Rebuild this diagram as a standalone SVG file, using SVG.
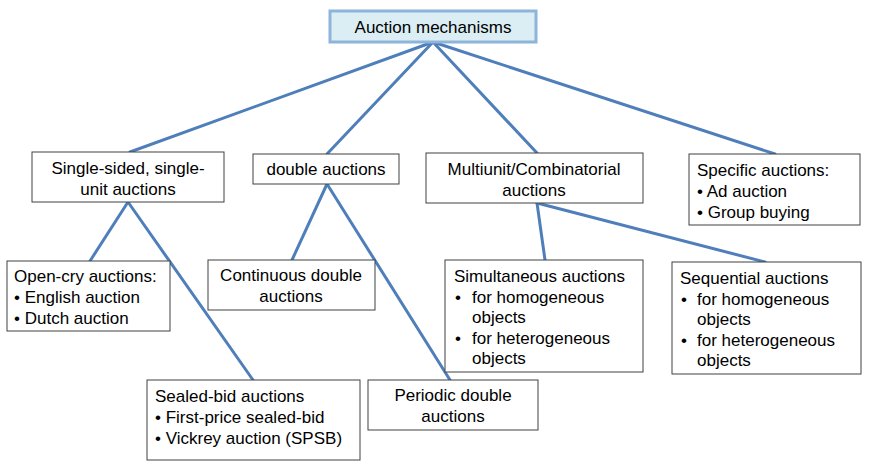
<svg xmlns="http://www.w3.org/2000/svg" width="869" height="463" viewBox="0 0 869 463">
<style>
.box{fill:#ffffff;stroke:#404040;stroke-width:1}
.root{fill:#dbeef4;stroke:#8eb4da;stroke-width:3}
text{font-family:"Liberation Sans",Arial,sans-serif;font-size:17px;fill:#000}
.c{text-anchor:middle}
.conn line{stroke:#4f7fba;stroke-width:3;stroke-linecap:round}
</style>
<rect width="869" height="463" fill="#ffffff"/>
<g id="connectors" class="conn">
<line x1="433" y1="42" x2="130" y2="152"/>
<line x1="433" y1="42" x2="327" y2="154"/>
<line x1="433" y1="42" x2="537" y2="153"/>
<line x1="433" y1="42" x2="775" y2="154"/>
<line x1="128" y1="202" x2="90" y2="261"/>
<line x1="128" y1="202" x2="253" y2="380"/>
<line x1="327" y1="184" x2="292" y2="260"/>
<line x1="327" y1="184" x2="450" y2="380"/>
<line x1="537" y1="203" x2="545" y2="260"/>
<line x1="537" y1="203" x2="765" y2="262"/>
</g>
<g id="root">
<rect class="root" x="330" y="11" width="206" height="31"/>
<text class="c" x="433" y="33">Auction mechanisms</text>
</g>
<g id="single">
<rect class="box" x="32" y="152" width="192" height="50"/>
<text class="c" x="128" y="174">Single-sided, single-</text>
<text class="c" x="128" y="195">unit auctions</text>
</g>
<g id="double">
<rect class="box" x="253" y="154" width="146" height="30"/>
<text class="c" x="326" y="175">double auctions</text>
</g>
<g id="multi">
<rect class="box" x="426" y="153" width="217" height="50"/>
<text class="c" x="534" y="175">Multiunit/Combinatorial</text>
<text class="c" x="534" y="196">auctions</text>
</g>
<g id="specific">
<rect class="box" x="689" y="154" width="171" height="71"/>
<text x="697" y="176">Specific auctions:</text>
<text x="697" y="197">• Ad auction</text>
<text x="697" y="218">• Group buying</text>
</g>
<g id="opencry">
<rect class="box" x="7" y="261" width="163" height="70"/>
<text x="14" y="282">Open-cry auctions:</text>
<text x="14" y="303">• English auction</text>
<text x="14" y="324">• Dutch auction</text>
</g>
<g id="continuous">
<rect class="box" x="208" y="260" width="167" height="50"/>
<text class="c" x="291" y="281">Continuous double</text>
<text class="c" x="291" y="302">auctions</text>
</g>
<g id="simultaneous">
<rect class="box" x="445" y="260" width="198" height="112"/>
<text x="454" y="282">Simultaneous auctions</text>
<text x="455" y="303">•</text><text x="472" y="303">for homogeneous</text>
<text x="472" y="323">objects</text>
<text x="455" y="344">•</text><text x="472" y="344">for heterogeneous</text>
<text x="472" y="364">objects</text>
</g>
<g id="sequential">
<rect class="box" x="672" y="262" width="189" height="112"/>
<text x="680" y="284">Sequential auctions</text>
<text x="681" y="305">•</text><text x="697" y="305">for homogeneous</text>
<text x="697" y="325">objects</text>
<text x="681" y="346">•</text><text x="697" y="346">for heterogeneous</text>
<text x="697" y="366">objects</text>
</g>
<g id="sealed">
<rect class="box" x="147" y="380" width="213" height="80"/>
<text x="155" y="402">Sealed-bid auctions</text>
<text x="155" y="423">• First-price sealed-bid</text>
<text x="155" y="444">• Vickrey auction (SPSB)</text>
</g>
<g id="periodic">
<rect class="box" x="368" y="380" width="170" height="50"/>
<text class="c" x="453" y="401">Periodic double</text>
<text class="c" x="453" y="422">auctions</text>
</g>
</svg>
